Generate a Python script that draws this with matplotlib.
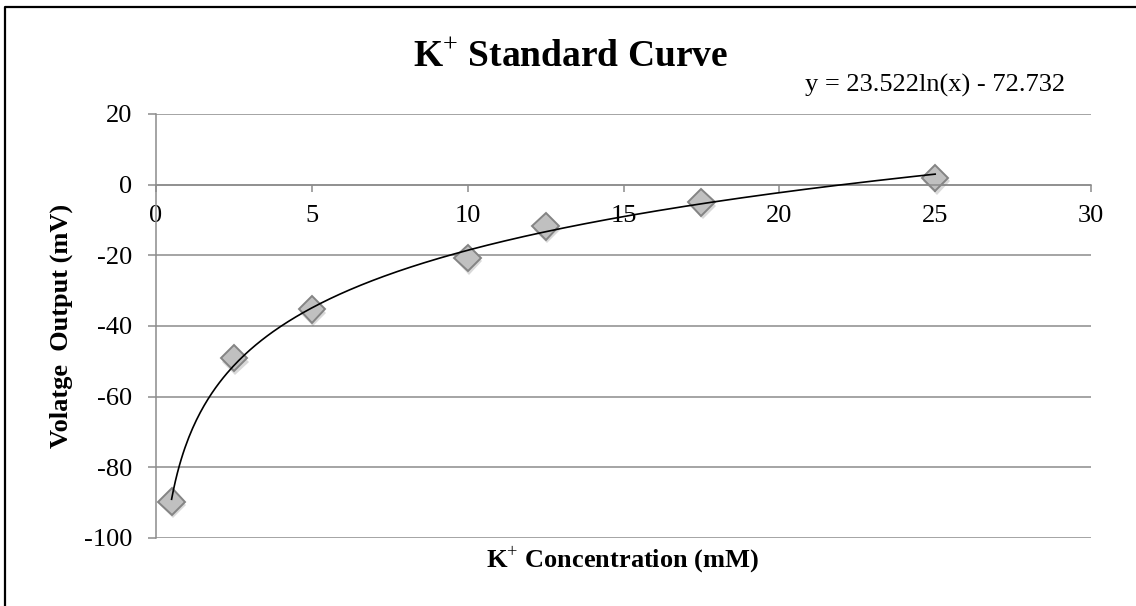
import numpy as np
import matplotlib
matplotlib.use("Agg")
import matplotlib.pyplot as plt
import matplotlib.patheffects as pe
from matplotlib.lines import Line2D

plt.rcParams['font.family'] = ['Liberation Serif', 'DejaVu Serif']
plt.rcParams['mathtext.fontset'] = 'custom'
plt.rcParams['mathtext.rm'] = 'Liberation Serif'
plt.rcParams['mathtext.bf'] = 'Liberation Serif:bold'
plt.rcParams['axes.unicode_minus'] = False

# data
conc = [0.5, 2.5, 5, 10, 12.5, 17.5, 25]
voltage = [-89.7, -49.1, -35.3, -20.7, -11.8, -5.0, 1.9]
x_ticks = [0, 5, 10, 15, 20, 25, 30]
y_ticks = [-100, -80, -60, -40, -20, 0, 20]

# log trendline as printed on the chart
slope = 23.522
intercept = -72.732

W, H = 1136, 606
fig = plt.figure(figsize=(W / 100, H / 100), dpi=100)

# outer chart frame, only top and left edges are visible
fig.lines.append(Line2D([5 / W, 5 / W, 1.0], [0.0, 1 - 7 / H, 1 - 7 / H],
                        transform=fig.transFigure, color='black', linewidth=1.6))

ax = fig.add_axes([156 / W, (H - 538) / H, (1091 - 156) / W, (538 - 114) / H])
ax.set_xlim(0, 30)
ax.set_ylim(-100, 20)
ax.set_xticks(x_ticks)
ax.set_yticks(y_ticks)

grid_c = '#8c8c8c'
ax.grid(axis='y', color=grid_c, linewidth=1.1)
ax.set_axisbelow(True)
for s in ['top', 'right']:
    ax.spines[s].set_visible(False)
ax.spines['left'].set_color(grid_c)
ax.spines['left'].set_linewidth(1.1)

# x axis crosses at y = 0
ax.spines['bottom'].set_position(('data', 0))
ax.spines['bottom'].set_color(grid_c)
ax.spines['bottom'].set_linewidth(1.1)

ax.tick_params(axis='x', direction='out', length=5, width=1.1, color=grid_c,
               labelsize=19, pad=10)
ax.tick_params(axis='y', direction='out', length=6, width=1.1, color=grid_c,
               labelsize=19, pad=11)

xs = np.linspace(min(conc), max(conc), 400)
ax.plot(xs, slope * np.log(xs) + intercept, color='black', linewidth=1.2, zorder=3)

ax.plot(conc, voltage, linestyle='none', marker='D', markersize=13.5,
        markerfacecolor='#c0c0c0', markeredgecolor='#848484', markeredgewidth=1.4,
        zorder=2,
        path_effects=[pe.SimplePatchShadow(offset=(1, -2.5), shadow_rgbFace='#000000',
                                           alpha=0.15), pe.Normal()])

fig.text(571 / W, 1 - 67 / H, r'K$^{+}$ Standard Curve', ha='center', va='baseline',
         fontsize=27, fontweight='bold')
fig.text(805 / W, 1 - 92 / H, 'y = 23.522ln(x) - 72.732', ha='left', va='baseline',
         fontsize=19)
fig.text(61 / W, 1 - 326 / H, 'Volatge  Output (mV)', rotation=90, ha='center',
         va='center', fontsize=19, fontweight='bold')
fig.text(623 / W, 1 - 568 / H, r'K$^{+}$ Concentration (mM)', ha='center', va='baseline',
         fontsize=19, fontweight='bold')

fig.savefig('out.png', dpi=100)
